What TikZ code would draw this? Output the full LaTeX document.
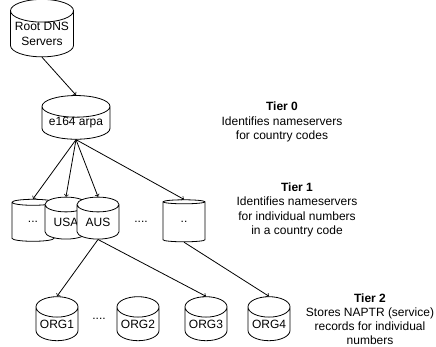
\documentclass[tikz,border=0pt]{standalone}
\usepackage{fontspec}
\setmainfont{Liberation Sans}
\usetikzlibrary{shapes.geometric}

\tikzset{
  db/.style={draw, fill=white, cylinder, shape border rotate=90, aspect=0.6,
    inner sep=0pt, minimum width=42pt, minimum height=42pt, align=center},
  tier/.style={align=center},
}

\begin{document}
\begin{tikzpicture}[x=1pt,y=-1pt,font=\fontsize{12}{14.5}\selectfont,line width=0.8pt,>=to]
\useasboundingbox (0,0) rectangle (436,347);
% root and tier 0
\node[db, aspect=0.42, minimum width=63pt, minimum height=55pt] (root) at (42,34) {Root DNS\\Servers};
\node[db, aspect=0.4, minimum width=68pt, minimum height=43pt] (enum) at (76,123) {e164 arpa};
% tier 1
\node[db] (cc0) at (33,222) {...};
\node[db] (usa) at (66,222) {USA};
\node[db] (aus) at (98,222) {AUS};
\node (dots1) at (141,222) {....};
\node[db] (ccn) at (184,222) {..};
% tier 2
\node[db, minimum height=44pt] (org1) at (57,324) {ORG1};
\node (dots2) at (99,319) {....};
\node[db, minimum height=44pt] (org2) at (138,324) {ORG2};
\node[db, minimum height=44pt] (org3) at (206,324) {ORG3};
\node[db, minimum height=44pt] (org4) at (269,324) {ORG4};
% tier texts
\node[tier] (t0) at (282,122) {\textbf{Tier 0}\\Identifies nameservers\\for country codes};
\node[tier] (t1) at (297,210) {\textbf{Tier 1}\\Identifies nameservers\\for individual numbers\\in a country code};
\node[tier, font=\fontsize{12}{14}\selectfont] (t2) at (370,319) {\textbf{Tier 2}\\Stores NAPTR (service)\\records for individual\\numbers};
% connectors
\draw[->] (root.south) -- (enum.north);
\draw[->] (enum.south) -- (cc0.north);
\draw[->] (enum.south) -- (usa.north);
\draw[->] (enum.south) -- (aus.north);
\draw[->] (enum.south) -- (ccn.north);
\draw[->] (aus.south) -- (org1.north);
\draw[->] (aus.south) -- (org3.north);
\draw[->] (ccn.south) -- (org4.north);
\end{tikzpicture}
\end{document}
